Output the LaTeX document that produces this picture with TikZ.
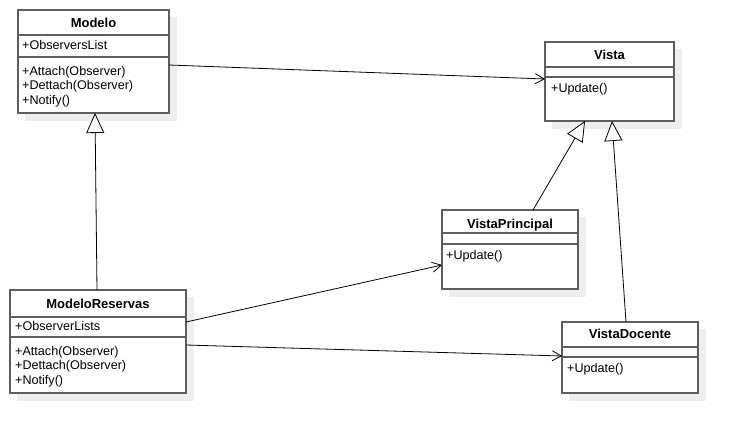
\documentclass[tikz,border=0pt]{standalone}
\usepackage{fontspec}
\setmainfont{Liberation Sans}
\usetikzlibrary{arrows.meta,calc}
\definecolor{boxline}{HTML}{5E5E5E}
\definecolor{shadowc}{HTML}{EEEEEE}
\begin{document}
\begin{tikzpicture}[x=1pt,y=-1pt,
  cls/.style={draw=boxline,line width=1.5pt,fill=white,rectangle,anchor=north west,inner sep=0pt,outer sep=0pt},
  shd/.style={fill=shadowc,draw=none},
  sep/.style={draw=boxline,line width=1.5pt},
  ttl/.style={anchor=base,inner sep=0pt,font=\fontsize{13}{15}\selectfont\bfseries},
  txt/.style={anchor=base west,inner sep=0pt,font=\fontsize{12.6}{15}\selectfont},
  assoc/.style={draw=black,line width=0.8pt,-{Straight Barb[length=9pt,width=10pt,line width=0.8pt]}},
  gen/.style={draw=black,line width=0.8pt,-{Triangle[open,length=20pt,width=18pt,line width=0.8pt,fill=white]}}
]
\useasboundingbox (0,0) rectangle (738,434);
% shadows
\fill[shd] (25,17) rectangle (177,121);
\fill[shd] (552,49) rectangle (682,129);
\fill[shd] (449,217) rectangle (586,297);
\fill[shd] (17,297) rectangle (194,401);
\fill[shd] (569,329) rectangle (706,401);
% boxes
\node[cls,minimum width=151pt,minimum height=103pt] (modelo) at (18,10) {};
\node[cls,minimum width=129pt,minimum height=79pt] (vista) at (545,42) {};
\node[cls,minimum width=136pt,minimum height=79pt] (vp) at (442,210) {};
\node[cls,minimum width=176pt,minimum height=103pt] (mr) at (10,290) {};
\node[cls,minimum width=136pt,minimum height=71pt] (vd) at (562,322) {};
% separators
\draw[sep] (18,35) -- (169,35) (18,57) -- (169,57);
\draw[sep] (545,67) -- (674,67) (545,77) -- (674,77);
\draw[sep] (442,233) -- (578,233) (442,244) -- (578,244);
\draw[sep] (10,317) -- (186,317) (10,337) -- (186,337);
\draw[sep] (562,347) -- (698,347) (562,357) -- (698,357);
% texts
\node[ttl] (t1) at (93.5,27) {Modelo};
\node[txt] (t1a) at (22,49) {+ObserversList};
\node[txt] (t1b) at (22,75) {+Attach(Observer)};
\node[txt] (t1c) at (22,89.5) {+Dettach(Observer)};
\node[txt] (t1d) at (22,104) {+Notify()};
\node[ttl] (t2) at (609.5,59) {Vista};
\node[txt] (t2a) at (551,92) {+Update()};
\node[ttl] (t3) at (510,228) {VistaPrincipal};
\node[txt] (t3a) at (446,259) {+Update()};
\node[ttl] (t4) at (98,308) {ModeloReservas};
\node[txt] (t4a) at (15,330) {+ObserverLists};
\node[txt] (t4b) at (15,355) {+Attach(Observer)};
\node[txt] (t4c) at (15,369.5) {+Dettach(Observer)};
\node[txt] (t4d) at (15,384) {+Notify()};
\node[ttl] (t5) at (630,338) {VistaDocente};
\node[txt] (t5a) at (567,372) {+Update()};
% connectors
\draw[assoc] ($(modelo.north east)+(0,55)$) -- ($(vista.north west)+(0,37)$);
\draw[gen] ($(mr.north west)+(87,0)$) -- ($(modelo.south west)+(77,0)$);
\draw[assoc] ($(mr.north east)+(0,32)$) -- ($(vp.north west)+(0,55)$);
\draw[assoc] ($(mr.north east)+(0,55)$) -- ($(vd.north west)+(0,34)$);
\draw[gen] ($(vp.north west)+(91,0)$) -- ($(vista.south west)+(40,0)$);
\draw[gen] ($(vd.north west)+(64,0)$) -- ($(vista.south west)+(67,0)$);
\end{tikzpicture}
\end{document}
